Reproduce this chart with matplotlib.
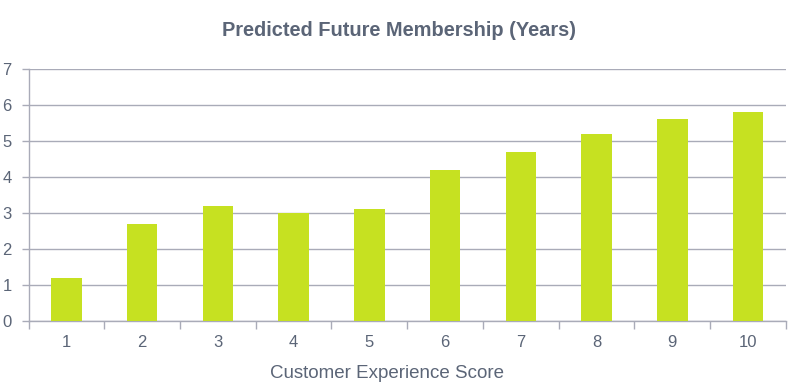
import matplotlib
matplotlib.use("Agg")
import matplotlib.pyplot as plt
import numpy as np

scores = [1, 2, 3, 4, 5, 6, 7, 8, 9, 10]
membership = [1.2, 2.7, 3.2, 3.0, 3.1, 4.2, 4.7, 5.2, 5.6, 5.8]
y_ticks = [0, 1, 2, 3, 4, 5, 6, 7]

bar_color = "#C6E121"
grid_color = "#A9ABB8"
text_color = "#5B6577"

plt.rcParams["font.family"] = ["Liberation Sans", "DejaVu Sans"]

fig = plt.figure(figsize=(7.94, 3.83), dpi=100)
ax = fig.add_axes((0.0359, 0.1619, 0.954, 0.658))

x = np.arange(len(scores))
ax.bar(x, membership, width=0.4, color=bar_color, zorder=3)

ax.set_xlim(-0.5, len(scores) - 0.5)
ax.set_ylim(0, 7)
ax.set_yticks(y_ticks)
ax.set_xticks(x)
ax.set_xticklabels([str(s) for s in scores])
ax.set_xticks(np.arange(-0.5, len(scores)), minor=True)

ax.grid(axis="y", color=grid_color, linewidth=1, zorder=0)
for side in ["top", "right"]:
    ax.spines[side].set_visible(False)
for side in ["left", "bottom"]:
    ax.spines[side].set_color(grid_color)
    ax.spines[side].set_linewidth(1)

ax.tick_params(axis="x", which="major", length=0, pad=10, labelsize=12, labelcolor=text_color)
ax.tick_params(axis="x", which="minor", length=6, color=grid_color, width=1)
ax.tick_params(axis="y", length=5, color=grid_color, width=1, pad=7, labelsize=12, labelcolor=text_color)

ax.set_xlabel("Customer Experience Score", fontsize=13.5, color=text_color)
ax.xaxis.label.set_va("center")
ax.xaxis.set_label_coords(0.473, -0.21)
fig.suptitle("Predicted Future Membership (Years)", fontsize=14.4, fontweight="bold",
             color=text_color, x=0.503, y=0.945)

fig.savefig("out.png", dpi=100)
